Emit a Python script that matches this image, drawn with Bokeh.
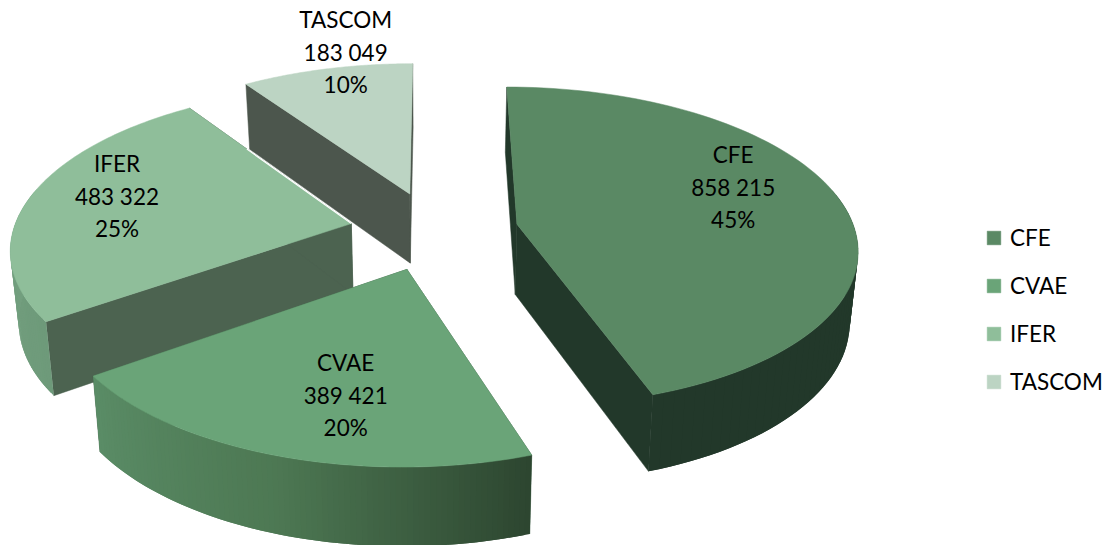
import math
from bokeh.embed import file_html
from bokeh.resources import INLINE
from bokeh.plotting import figure
from bokeh.models import ColumnDataSource, Legend, LegendItem, Range1d
from bokeh.core.properties import value

# ---- data ----
categories = ["CFE", "CVAE", "IFER", "TASCOM"]
amounts = [858215, 389421, 483322, 183049]
amount_labels = ["858 215", "389 421", "483 322", "183 049"]
percent_labels = ["45%", "20%", "25%", "10%"]

# ---- styles ----
top_colors = ["#5A8964", "#6AA478", "#8FBE9A", "#BCD4C3"]
radial_colors = ["#22382A", "#3A5A42", "#4C6350", "#4C564D"]
rim_stops = [
    ["#22382A", "#22382A"],
    ["#5A8C66", "#4D7853", "#2D4630"],
    ["#7CA988", "#6E9A7A"],
    ["#6F8A76", "#6F8A76"],
]
paint_order = [3, 2, 0, 1]

# ---- projection of the tilted pie ----
CX, CY, RX, RY = 433.5, 230.0, 338.0, 158.0
PERSP, EXPLODE, SHRINK = 0.14, 0.25, 0.98
DEPTH, DEPTH_P = 70.5, 42.0
START = 0.0
STEPS = 90
FONT_PX = 22.5
LINE_PX = 32.5
label_nudge = [(21, -22), (12, 21), (-40, -11), (-12, -63)]
LABEL_R = 0.6
SEAM_SLICE, SEAM_FRACTION = 2, 0.62


def hex_rgb(c):
    return [int(c[i:i + 2], 16) for i in (1, 3, 5)]


def ramp(stops, t):
    t = min(max(t, 0.0), 1.0) * (len(stops) - 1)
    i = min(int(t), len(stops) - 2)
    a, b = hex_rgb(stops[i]), hex_rgb(stops[i + 1])
    f = t - i
    return "#%02x%02x%02x" % tuple(round(a[k] + (b[k] - a[k]) * f) for k in range(3))


total = sum(amounts)
spans = [360.0 * a / total for a in amounts]
starts = [START + sum(spans[:i]) for i in range(len(spans))]
mids = [starts[i] + spans[i] / 2 for i in range(len(spans))]


def project(i, deg, r):
    m, t = math.radians(mids[i]), math.radians(deg)
    gx = EXPLODE * math.sin(m) + r * math.sin(t)
    gy = -EXPLODE * math.cos(m) - r * math.cos(t)
    sc = 1.0 / (1.0 - PERSP * gy)
    x, y = CX + RX * gx * sc, CY + RY * gy * sc
    return x, y, CX + (x - CX) * SHRINK, y + DEPTH + DEPTH_P * (sc - 1.0)


p = figure(width=1107, height=545, output_backend="svg", toolbar_location=None,
           x_range=Range1d(0, 1107), y_range=Range1d(545, 0), min_border=0,
           outline_line_color=None, background_fill_color="white",
           border_fill_color="white", margin=(0, 0, 0, 0))
p.axis.visible = False
p.grid.visible = False

legend_items = {}
for i in paint_order:
    a0, a1 = starts[i], starts[i] + spans[i]
    angles = [a0 + (a1 - a0) * k / STEPS for k in range(STEPS + 1)]
    rim = [project(i, a, 1.0) for a in angles]
    ax, ay, bx, by = project(i, a0, 0.0)

    # radial walls
    for end in (rim[0], rim[-1]):
        p.patch([ax, end[0], end[2], bx], [ay, end[1], end[3], by],
                fill_color=radial_colors[i], line_color=radial_colors[i], line_width=0.5)

    # outer curved wall, as overlapping shaded strips (front-facing part only)
    xs, ys, cs = [], [], []
    for k in range(STEPS):
        if -math.cos(math.radians(angles[k])) < -0.2 and -math.cos(math.radians(angles[k + 1])) < -0.2:
            continue
        q0, q1 = rim[k], rim[min(k + 2, STEPS)]
        xs.append([q0[0], q1[0], q1[2], q0[2]])
        ys.append([q0[1], q1[1], q1[3], q0[3]])
        cs.append(ramp(rim_stops[i], 1.0 - k / (STEPS - 1)))
    if xs:
        p.patches("xs", "ys", fill_color="cs", line_color=None,
                  source=ColumnDataSource(dict(xs=xs, ys=ys, cs=cs)))

    # top face
    top = p.patch([ax] + [q[0] for q in rim], [ay] + [q[1] for q in rim],
                  fill_color=top_colors[i], line_color=top_colors[i], line_width=0.5)
    legend_items[i] = top

    # pale seam where this face meets the wall of the slice behind it
    if i == SEAM_SLICE:
        sx, sy, _, _ = project(i, a1, SEAM_FRACTION)
        p.line([ax, sx], [ay, sy], line_color="white", line_width=1.2)

# data labels: three lines per slice
tx, ty, tt = [], [], []
for i in range(len(categories)):
    x, y, _, _ = project(i, mids[i], LABEL_R)
    x += label_nudge[i][0]
    y += label_nudge[i][1]
    for n, line in enumerate((categories[i], amount_labels[i], percent_labels[i])):
        tx.append(x)
        ty.append(y + (n - 1) * LINE_PX)
        tt.append(line)
p.text("x", "y", text="t", source=ColumnDataSource(dict(x=tx, y=ty, t=tt)),
       text_font=value("Lato"), text_font_size=f"{FONT_PX}px", text_color="black",
       text_align="center", text_baseline="middle")

legend = Legend(
    items=[LegendItem(label=categories[i], renderers=[legend_items[i]]) for i in range(len(categories))],
    location=(985, 150), orientation="vertical", glyph_width=17, glyph_height=17,
    label_standoff=8, spacing=21, padding=0, margin=0, label_height=20,
    label_text_font="Lato", label_text_font_size=f"{FONT_PX}px", label_text_color="black",
    background_fill_alpha=0, border_line_color=None, inactive_fill_alpha=0,
)
p.add_layout(legend, "center")

open("out.html", "w").write(file_html(p, INLINE))
